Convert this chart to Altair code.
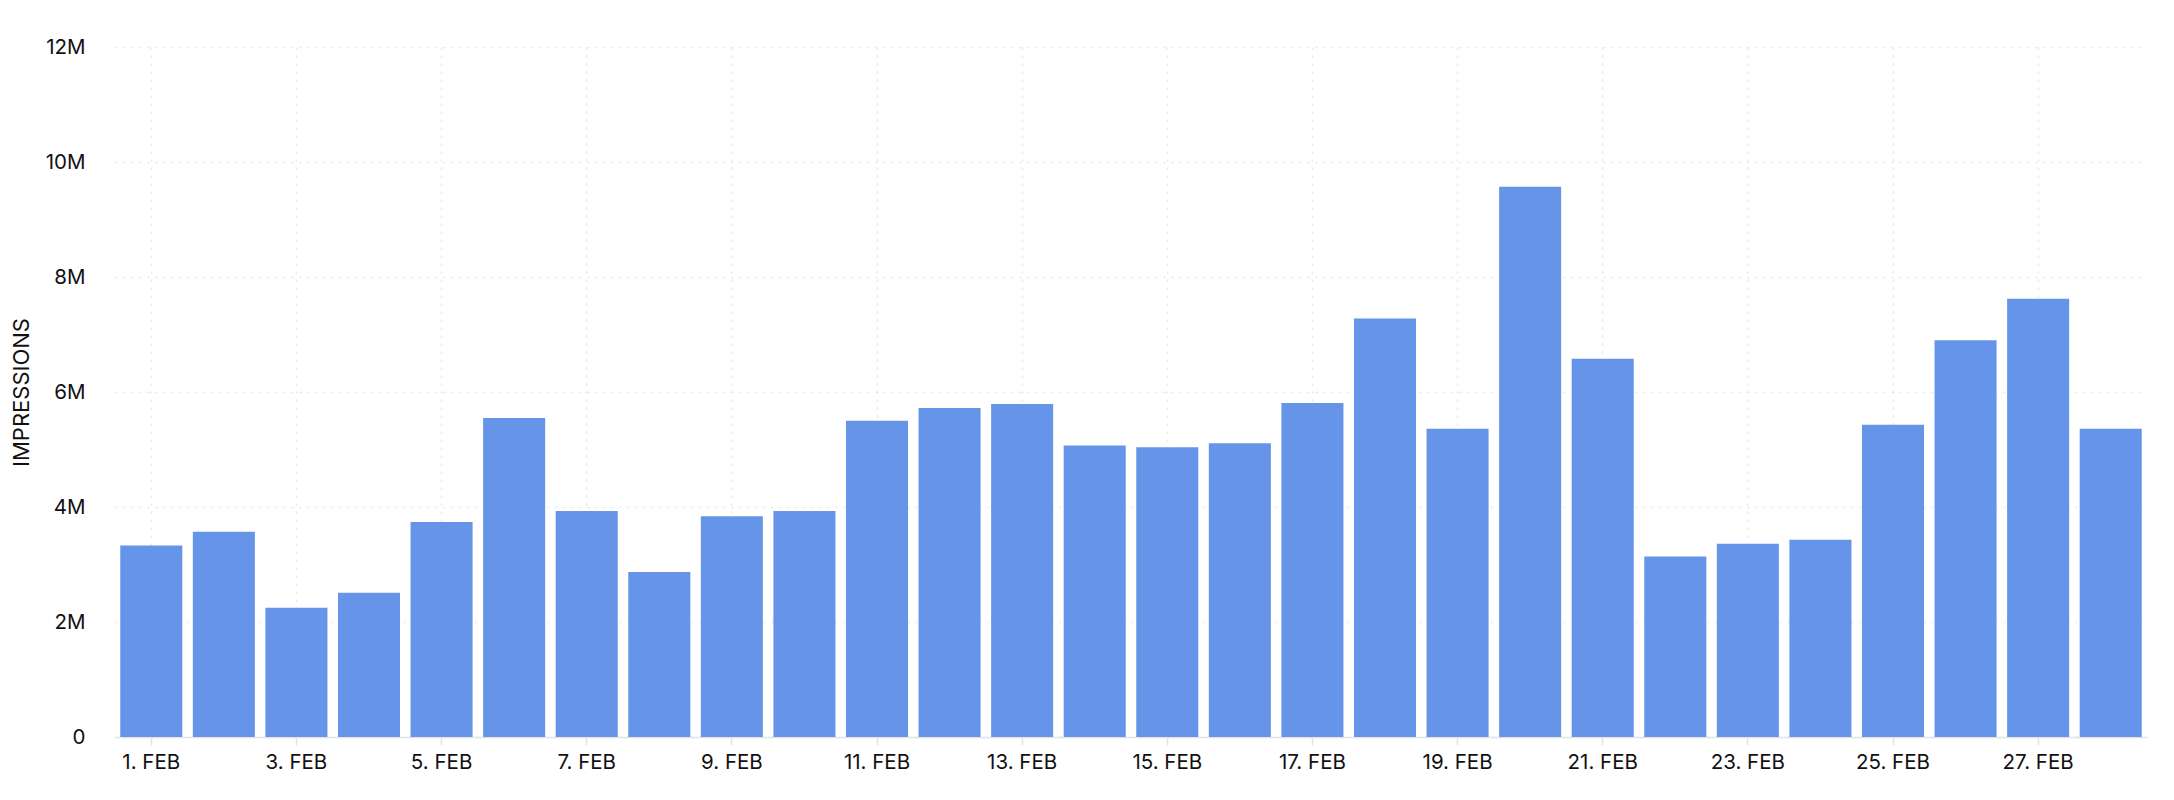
import altair as alt
import pandas as pd

days = [f"{d}. FEB" for d in range(1, 29)]
impressions_m = [3.33, 3.57, 2.25, 2.51, 3.74, 5.55, 3.93, 2.87, 3.84, 3.93,
                 5.50, 5.72, 5.79, 5.07, 5.04, 5.11, 5.81, 7.28, 5.36, 9.57,
                 6.58, 3.14, 3.36, 3.43, 5.43, 6.90, 7.62, 5.36]
tick_days = [f"{d}. FEB" for d in range(1, 29, 2)]
y_ticks = [0, 2, 4, 6, 8, 10, 12]

df = pd.DataFrame({"day": days, "impressions": impressions_m})

FONT = "Inter"

chart = alt.Chart(df).mark_bar(color="#6694E8").encode(
    x=alt.X("day:N", sort=days, title=None,
            scale=alt.Scale(paddingInner=0.145, paddingOuter=0.0725),
            axis=alt.Axis(values=tick_days, labelAngle=0, labelFont=FONT,
                          labelFontSize=20.5, labelColor="#111111",
                          labelPadding=7, tickSize=8, tickColor="#e3e3e3",
                          tickWidth=1.5, domainColor="#e3e3e3", domainWidth=1.5,
                          grid=True, gridColor="#e6e6e6", gridDash=[2, 6],
                          gridWidth=1.5)),
    y=alt.Y("impressions:Q", title="IMPRESSIONS",
            scale=alt.Scale(domain=[0, 12], nice=False),
            axis=alt.Axis(values=y_ticks, labelExpr="datum.value == 0 ? '0' : datum.value + 'M'",
                          labelFont=FONT, labelFontSize=20.5, labelColor="#111111",
                          labelPadding=30, ticks=False, domain=False,
                          grid=True, gridColor="#e6e6e6", gridDash=[2, 6],
                          gridWidth=1.5, titleFont=FONT, titleFontSize=22,
                          titleFontWeight="normal", titleColor="#111111",
                          titlePadding=12)),
).properties(
    width=2032, height=690,
    padding={"left": 2, "top": 29, "right": 5, "bottom": 5},
).configure_view(stroke=None)

chart.save("out.html", embed_options={"renderer": "svg", "actions": False})
